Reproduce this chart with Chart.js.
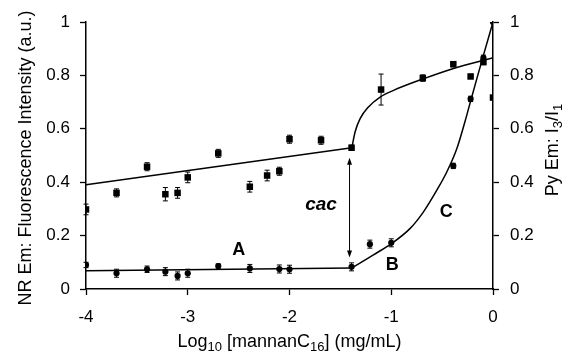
<!DOCTYPE html>
<html><head><meta charset="utf-8">
<script src="https://cdn.jsdelivr.net/npm/chart.js@4"></script>
<style>html,body{margin:0;padding:0;background:#fff;} canvas{display:block;}</style>
</head><body>
<canvas id="c" width="568" height="361"></canvas>
<script>
// ---- data ----
const nrX   = [-4.00,-3.70,-3.40,-3.22,-3.10,-3.00,-2.70,-2.39,-2.22,-2.10,-2.00,-1.69,-1.39,-1.10,-0.69,-0.39,-0.22,-0.094,0.00];
const nrY   = [0.298,0.360,0.458,0.355,0.360,0.418,0.508,0.383,0.425,0.441,0.561,0.557,0.529,0.747,0.790,0.842,0.796,0.850,0.717];
const nrErr = [0.020,0.015,0.015,0.025,0.020,0.020,0.015,0.020,0.020,0.015,0.015,0.015,0.010,0.058,0.012,0.010,0.000,0.010,0.000];

const pyX   = [-4.00,-3.70,-3.40,-3.22,-3.10,-3.00,-2.70,-2.39,-2.10,-2.00,-1.39,-1.21,-1.00,-0.39,-0.22,-0.094,0.00];
const pyY   = [0.090,0.059,0.074,0.065,0.049,0.059,0.086,0.077,0.075,0.074,0.083,0.168,0.173,0.461,0.712,0.866,1.000];
const pyErr = [0.010,0.015,0.012,0.015,0.015,0.015,0.008,0.015,0.015,0.015,0.015,0.015,0.015,0.010,0.010,0.010,0.000];

const nrLineX  = [-4.00,-1.387];
const nrLineY  = [0.390,0.529];
const nrCurveX = [-1.387,-1.355,-1.306,-1.224,-1.109,-0.978,-0.693,-0.388,0.00];
const nrCurveY = [0.529,0.589,0.638,0.682,0.719,0.744,0.786,0.826,0.866];

const pyLineX  = [-4.00,-1.387];
const pyLineY  = [0.068,0.079];
const pyCurveX = [-1.387,-1.175,-0.994,-0.814,-0.683,-0.552,-0.453,-0.355,-0.273,-0.217,-0.158,-0.093,0.00];
const pyCurveY = [0.079,0.128,0.171,0.227,0.289,0.370,0.439,0.526,0.630,0.708,0.789,0.877,1.000];

const xTicks = [-4,-3,-2,-1,0];
const yTicks = [0,0.2,0.4,0.6,0.8,1];

const labelText = ['A','B','C'];
const labelX    = [-2.50,-0.99,-0.46];
const labelY    = [0.146,0.090,0.290];
const cacText = 'cac';
const cacPos  = [-1.69,0.315];
const arrowX  = -1.41;
const arrowY  = [0.492,0.118];

const xTitleParts  = [['Log',0],['10',1],[' [mannanC',0],['16',1],['] (mg/mL)',0]];
const yTitleParts  = [['NR Em: Fluorescence Intensity (a.u.)',0]];
const y2TitleParts = [['Py Em: I',0],['3',1],['/I',0],['1',1]];

const FONT = '"Liberation Sans", Arial, Helvetica, sans-serif';
const TICK = 17, TITLE = 18, SUB = 13;
const pts = (xs, ys) => xs.map((x, i) => ({x, y: ys[i]}));

function richWidth(ctx, parts, size, subSize){
  let w = 0;
  for (const [t, s] of parts){ ctx.font = (s?subSize:size) + 'px ' + FONT; w += ctx.measureText(t).width; }
  return w;
}
function drawRich(ctx, parts, cx, cy, size, subSize){
  const w = richWidth(ctx, parts, size, subSize);
  let x = cx - w/2;
  ctx.textBaseline = 'middle'; ctx.textAlign = 'left'; ctx.fillStyle = '#000';
  for (const [t, s] of parts){
    ctx.font = (s?subSize:size) + 'px ' + FONT;
    ctx.fillText(t, x, cy + (s ? 5 : 0));
    x += ctx.measureText(t).width;
  }
}

const deco = {
  id: 'deco',
  beforeDatasetsDraw(chart){
    const {ctx, scales:{x, y}} = chart;
    ctx.save();
    ctx.strokeStyle = '#000'; ctx.lineWidth = 1;
    const bars = (xs, ys, es) => xs.forEach((xv, i) => {
      if (!es[i]) return;
      const px = x.getPixelForValue(xv);
      const t = y.getPixelForValue(ys[i] + es[i]), b = y.getPixelForValue(ys[i] - es[i]);
      ctx.beginPath();
      ctx.moveTo(px, t); ctx.lineTo(px, b);
      ctx.moveTo(px - 2.5, t); ctx.lineTo(px + 2.5, t);
      ctx.moveTo(px - 2.5, b); ctx.lineTo(px + 2.5, b);
      ctx.stroke();
    });
    bars(nrX, nrY, nrErr); bars(pyX, pyY, pyErr);
    ctx.restore();
  },
  afterDraw(chart){
    const {ctx, scales:{x, y}, chartArea:ca} = chart;
    ctx.save();
    const ax = x.getPixelForValue(arrowX);
    const a1 = y.getPixelForValue(arrowY[0]), a2 = y.getPixelForValue(arrowY[1]);
    ctx.strokeStyle = '#000'; ctx.fillStyle = '#000'; ctx.lineWidth = 1;
    ctx.beginPath(); ctx.moveTo(ax, a1 + 4); ctx.lineTo(ax, a2 - 4); ctx.stroke();
    ctx.beginPath(); ctx.moveTo(ax, a1); ctx.lineTo(ax - 2.5, a1 + 7); ctx.lineTo(ax + 2.5, a1 + 7); ctx.closePath(); ctx.fill();
    ctx.beginPath(); ctx.moveTo(ax, a2); ctx.lineTo(ax - 2.5, a2 - 7); ctx.lineTo(ax + 2.5, a2 - 7); ctx.closePath(); ctx.fill();
    ctx.textAlign = 'center'; ctx.textBaseline = 'middle';
    ctx.font = 'bold 18px ' + FONT;
    labelText.forEach((t, i) => ctx.fillText(t, x.getPixelForValue(labelX[i]), y.getPixelForValue(labelY[i])));
    ctx.font = 'italic bold 19px ' + FONT;
    ctx.fillText(cacText, x.getPixelForValue(cacPos[0]), y.getPixelForValue(cacPos[1]));
    drawRich(ctx, xTitleParts, (ca.left + ca.right)/2, 342, TITLE, SUB);
    ctx.save(); ctx.translate(26, 158); ctx.rotate(-Math.PI/2);
    drawRich(ctx, yTitleParts, 0, 0, TITLE, SUB); ctx.restore();
    ctx.save(); ctx.translate(553, 150); ctx.rotate(-Math.PI/2);
    drawRich(ctx, y2TitleParts, 0, 0, TITLE, SUB); ctx.restore();
    ctx.restore();
  }
};

const fmt = v => String(Number(v.toFixed(1)));
const axisCommon = {
  grid: {drawOnChartArea: false, drawTicks: true, tickLength: 6, color: '#000', tickWidth: 1.3},
  border: {color: '#000', width: 1.5},
};
const fixTicks = list => (s => { s.ticks = list.map(v => ({value: v})); });

new Chart(document.getElementById('c'), {
  type: 'scatter',
  data: {
    datasets: [
      {data: pts(nrX, nrY), pointStyle: 'rect', pointRadius: 4.6, backgroundColor: '#000', borderColor: '#000', borderWidth: 0, showLine: false},
      {data: pts(pyX, pyY), pointStyle: 'circle', pointRadius: 3.1, backgroundColor: '#000', borderColor: '#000', borderWidth: 0, showLine: false},
      {data: pts(nrLineX, nrLineY), showLine: true, pointRadius: 0, borderColor: '#000', borderWidth: 1.5, fill: false},
      {data: pts(nrCurveX, nrCurveY), showLine: true, pointRadius: 0, borderColor: '#000', borderWidth: 1.5, fill: false, cubicInterpolationMode: 'monotone'},
      {data: pts(pyLineX, pyLineY), showLine: true, pointRadius: 0, borderColor: '#000', borderWidth: 1.5, fill: false},
      {data: pts(pyCurveX, pyCurveY), showLine: true, pointRadius: 0, borderColor: '#000', borderWidth: 1.5, fill: false, cubicInterpolationMode: 'monotone'}
    ]
  },
  options: {
    responsive: false, animation: false, devicePixelRatio: 1,
    layout: {padding: {top: 22, left: 0, right: 0, bottom: 0}},
    plugins: {legend: {display: false}, tooltip: {enabled: false}},
    elements: {point: {hoverRadius: 0}},
    scales: {
      x: {type: 'linear', min: -4, max: 0, ...axisCommon,
          afterBuildTicks: fixTicks(xTicks),
          ticks: {color: '#000', font: {family: FONT, size: TICK}, padding: 12, callback: fmt},
          afterFit: s => { s.height = 72; }},
      y: {type: 'linear', position: 'left', min: 0, max: 1, ...axisCommon,
          afterBuildTicks: fixTicks(yTicks),
          ticks: {color: '#000', font: {family: FONT, size: TICK}, padding: 10, callback: fmt},
          afterFit: s => { s.width = 86; }},
      y2: {type: 'linear', position: 'right', min: 0, max: 1, ...axisCommon,
          afterBuildTicks: fixTicks(yTicks),
          ticks: {color: '#000', font: {family: FONT, size: TICK}, padding: 11, callback: fmt},
          afterFit: s => { s.width = 75; }}
    }
  },
  plugins: [deco]
});
</script>
</body></html>
